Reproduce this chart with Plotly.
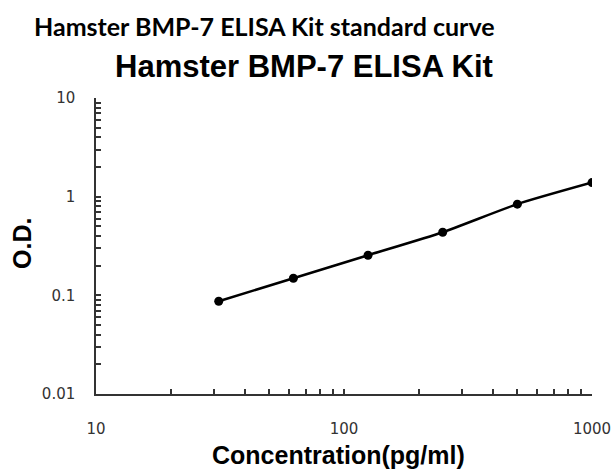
import plotly.graph_objects as go

concentration = [31.25, 62.5, 125, 250, 500, 1000]
od = [0.087, 0.149, 0.255, 0.436, 0.84, 1.39]

x_tickvals = [10, 20, 30, 40, 50, 60, 70, 80, 90, 100, 200, 300, 400, 500, 600, 700, 800, 900, 1000]
x_ticktext = ["10", "", "", "", "", "", "", "", "", "100", "", "", "", "", "", "", "", "", "1000"]
y_tickvals = [0.01, 0.02, 0.03, 0.04, 0.05, 0.06, 0.07, 0.08, 0.09,
              0.1, 0.2, 0.3, 0.4, 0.5, 0.6, 0.7, 0.8, 0.9,
              1, 2, 3, 4, 5, 6, 7, 8, 9, 10]
y_ticktext = ["0.01"] + [""] * 8 + ["0.1"] + [""] * 8 + ["1"] + [""] * 8 + ["10"]

fig = go.Figure()
fig.add_trace(go.Scatter(
    x=concentration, y=od, mode="lines+markers",
    line=dict(color="black", width=2.5, shape="spline", smoothing=0.6),
    marker=dict(color="black", size=9),
    showlegend=False,
))

axis_font = dict(family="DejaVu Sans", size=15, color="#333")
fig.update_layout(
    width=613, height=473,
    paper_bgcolor="white", plot_bgcolor="white",
    margin=dict(l=96, r=21, t=98, b=79),
    xaxis=dict(
        type="log", range=[1, 3], tickvals=x_tickvals, ticktext=x_ticktext,
        ticks="inside", ticklen=5, tickwidth=1.5, tickcolor="#333",
        showline=True, linecolor="#333", linewidth=1.5, showgrid=False, zeroline=False,
        tickfont=axis_font, ticklabelstandoff=20, automargin=False,
    ),
    yaxis=dict(
        type="log", range=[-2, 1], tickvals=y_tickvals, ticktext=y_ticktext,
        ticks="inside", ticklen=5, tickwidth=1.5, tickcolor="#333",
        showline=True, linecolor="#333", linewidth=1.5, showgrid=False, zeroline=False,
        tickfont=axis_font, ticklabelstandoff=16, automargin=False,
    ),
    annotations=[
        dict(text="<b>Hamster BMP-7 ELISA Kit standard curve</b>", x=264, y=26,
             font=dict(family="Lato", size=25, color="black")),
        dict(text="<b>Hamster BMP-7 ELISA Kit</b>", x=304, y=67,
             font=dict(family="Arial, Liberation Sans", size=31, color="black")),
        dict(text="<b>Concentration(pg/ml)</b>", x=338, y=455,
             font=dict(family="Arial, Liberation Sans", size=25, color="black")),
        dict(text="<b>O.D.</b>", x=22, y=244, textangle=-90,
             font=dict(family="Arial, Liberation Sans", size=25, color="black")),
    ],
)
# convert pixel positions to paper coordinates
W, H = 613 - 96 - 21, 473 - 98 - 79
for a in fig.layout.annotations:
    px, py = a.x, a.y
    a.xref = "paper"
    a.yref = "paper"
    a.showarrow = False
    a.x = (px - 96) / W
    a.y = 1 + (98 - py) / H
    a.xanchor = "center"
    a.yanchor = "middle"

fig.write_html("out.html", config={"displayModeBar": False},
               post_script="document.body.style.margin='0';document.body.style.overflow='hidden';")
